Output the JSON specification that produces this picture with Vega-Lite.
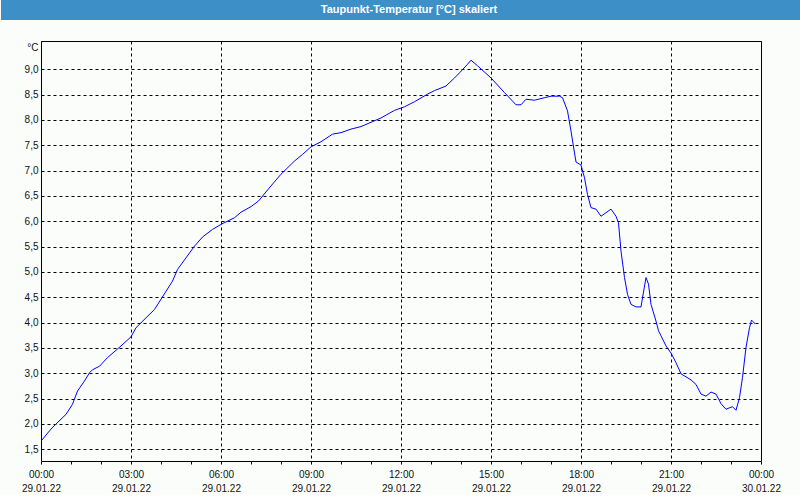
{
  "$schema": "https://vega.github.io/schema/vega-lite/v6.json",
  "background": "#fafdfa",
  "padding": 0,
  "spacing": 20,
  "vconcat": [
    {
      "width": 720,
      "height": 20,
      "view": {"stroke": null},
      "data": {"values": [{"title": "Taupunkt-Temperatur [°C] skaliert"}]},
      "layer": [
        {
          "mark": {"type": "rect", "color": "#3d90c7", "clip": false},
          "encoding": {
            "x": {"datum": -80, "type": "quantitative", "scale": {"domain": [0, 1440], "nice": false, "zero": false}, "axis": null},
            "x2": {"datum": 1520}
          }
        },
        {
          "mark": {"type": "text", "color": "#ffffff", "font": "Liberation Sans", "fontSize": 11, "fontWeight": "bold", "dx": 8, "baseline": "middle"},
          "encoding": {"text": {"field": "title", "type": "nominal"}}
        }
      ]
    },
    {
      "width": 720,
      "height": 420,
      "view": {"stroke": "#000000", "strokeWidth": 1},
      "data": {
        "values": [
          {"min": 0, "v": 1.66}, {"min": 20, "v": 1.90}, {"min": 30, "v": 2.00}, {"min": 50, "v": 2.19},
          {"min": 63, "v": 2.39}, {"min": 73, "v": 2.65}, {"min": 87, "v": 2.85}, {"min": 97, "v": 3.01},
          {"min": 103, "v": 3.07}, {"min": 117, "v": 3.14}, {"min": 133, "v": 3.31}, {"min": 160, "v": 3.54},
          {"min": 180, "v": 3.72}, {"min": 190, "v": 3.90}, {"min": 227, "v": 4.26}, {"min": 263, "v": 4.82},
          {"min": 273, "v": 5.05}, {"min": 307, "v": 5.51}, {"min": 323, "v": 5.69}, {"min": 343, "v": 5.84},
          {"min": 362, "v": 5.95}, {"min": 387, "v": 6.07}, {"min": 400, "v": 6.18}, {"min": 420, "v": 6.29},
          {"min": 435, "v": 6.40}, {"min": 445, "v": 6.52}, {"min": 455, "v": 6.64}, {"min": 467, "v": 6.78},
          {"min": 480, "v": 6.93}, {"min": 507, "v": 7.19}, {"min": 523, "v": 7.32}, {"min": 540, "v": 7.47},
          {"min": 560, "v": 7.57}, {"min": 583, "v": 7.72}, {"min": 600, "v": 7.75}, {"min": 620, "v": 7.82},
          {"min": 640, "v": 7.87}, {"min": 680, "v": 8.04}, {"min": 707, "v": 8.19}, {"min": 727, "v": 8.26},
          {"min": 747, "v": 8.36}, {"min": 773, "v": 8.51}, {"min": 787, "v": 8.58}, {"min": 810, "v": 8.67},
          {"min": 827, "v": 8.83}, {"min": 837, "v": 8.93}, {"min": 853, "v": 9.10}, {"min": 860, "v": 9.18},
          {"min": 873, "v": 9.07}, {"min": 900, "v": 8.83}, {"min": 927, "v": 8.54}, {"min": 950, "v": 8.30},
          {"min": 960, "v": 8.30}, {"min": 970, "v": 8.41}, {"min": 987, "v": 8.39}, {"min": 1007, "v": 8.44},
          {"min": 1020, "v": 8.47}, {"min": 1037, "v": 8.47}, {"min": 1043, "v": 8.44}, {"min": 1053, "v": 8.18},
          {"min": 1060, "v": 7.78}, {"min": 1067, "v": 7.35}, {"min": 1070, "v": 7.17}, {"min": 1080, "v": 7.11},
          {"min": 1087, "v": 6.86}, {"min": 1093, "v": 6.53}, {"min": 1100, "v": 6.27}, {"min": 1110, "v": 6.24},
          {"min": 1120, "v": 6.10}, {"min": 1130, "v": 6.17}, {"min": 1140, "v": 6.24}, {"min": 1150, "v": 6.10},
          {"min": 1155, "v": 5.97}, {"min": 1160, "v": 5.41}, {"min": 1167, "v": 4.89}, {"min": 1173, "v": 4.56},
          {"min": 1180, "v": 4.36}, {"min": 1190, "v": 4.31}, {"min": 1200, "v": 4.31}, {"min": 1203, "v": 4.49},
          {"min": 1210, "v": 4.89}, {"min": 1215, "v": 4.76}, {"min": 1220, "v": 4.36}, {"min": 1230, "v": 4.03},
          {"min": 1235, "v": 3.84}, {"min": 1240, "v": 3.74}, {"min": 1250, "v": 3.54}, {"min": 1260, "v": 3.40},
          {"min": 1270, "v": 3.21}, {"min": 1280, "v": 2.99}, {"min": 1290, "v": 2.93}, {"min": 1300, "v": 2.87},
          {"min": 1310, "v": 2.78}, {"min": 1320, "v": 2.59}, {"min": 1330, "v": 2.55}, {"min": 1340, "v": 2.63},
          {"min": 1350, "v": 2.59}, {"min": 1360, "v": 2.40}, {"min": 1370, "v": 2.29}, {"min": 1377, "v": 2.32},
          {"min": 1383, "v": 2.34}, {"min": 1390, "v": 2.27}, {"min": 1397, "v": 2.52}, {"min": 1403, "v": 2.92},
          {"min": 1410, "v": 3.51}, {"min": 1417, "v": 3.90}, {"min": 1421, "v": 4.05}, {"min": 1429, "v": 3.97}
        ]
      },
      "mark": {"type": "line", "color": "#0000ff", "strokeWidth": 1, "clip": true},
      "encoding": {
        "x": {
          "field": "min",
          "type": "quantitative",
          "scale": {"domain": [0, 1440], "nice": false, "zero": false},
          "axis": {
            "title": null,
            "values": [0, 60, 120, 180, 240, 300, 360, 420, 480, 540, 600, 660, 720, 780, 840, 900, 960, 1020, 1080, 1140, 1200, 1260, 1320, 1380, 1440],
            "grid": true,
            "gridColor": "#000000",
            "gridDash": [3, 3],
            "gridOpacity": {"condition": {"test": "datum.value % 180 !== 0", "value": 0}, "value": 1},
            "domain": false,
            "ticks": true,
            "tickColor": "#000000",
            "tickSize": 3,
            "labelExpr": "datum.value % 180 === 0 ? [format(datum.value / 60 % 24, '02d') + ':00', datum.value < 1440 ? '29.01.22' : '30.01.22'] : ''",
            "labelOverlap": false,
            "labelFlush": false,
            "labelFont": "Liberation Sans",
            "labelFontSize": 10,
            "labelColor": "#111111",
            "labelLineHeight": 14.5,
            "labelPadding": 5
          }
        },
        "y": {
          "field": "v",
          "type": "quantitative",
          "scale": {"domain": [1.269, 9.559], "nice": false, "zero": false},
          "axis": {
            "values": [1.5, 2, 2.5, 3, 3.5, 4, 4.5, 5, 5.5, 6, 6.5, 7, 7.5, 8, 8.5, 9],
            "labelExpr": "replace(format(datum.value, '.1f'), '.', ',')",
            "grid": true,
            "gridColor": "#000000",
            "gridDash": [3, 3],
            "domain": false,
            "ticks": false,
            "labelPadding": 3,
            "labelFont": "Liberation Sans",
            "labelFontSize": 10,
            "labelColor": "#111111",
            "minExtent": 40,
            "maxExtent": 40,
            "title": "°C",
            "titleAngle": 0,
            "titleAlign": "right",
            "titleBaseline": "top",
            "titleX": -3,
            "titleY": 1,
            "titleFont": "Liberation Sans",
            "titleFontSize": 10,
            "titleFontWeight": "normal",
            "titleColor": "#111111"
          }
        }
      }
    }
  ]
}
